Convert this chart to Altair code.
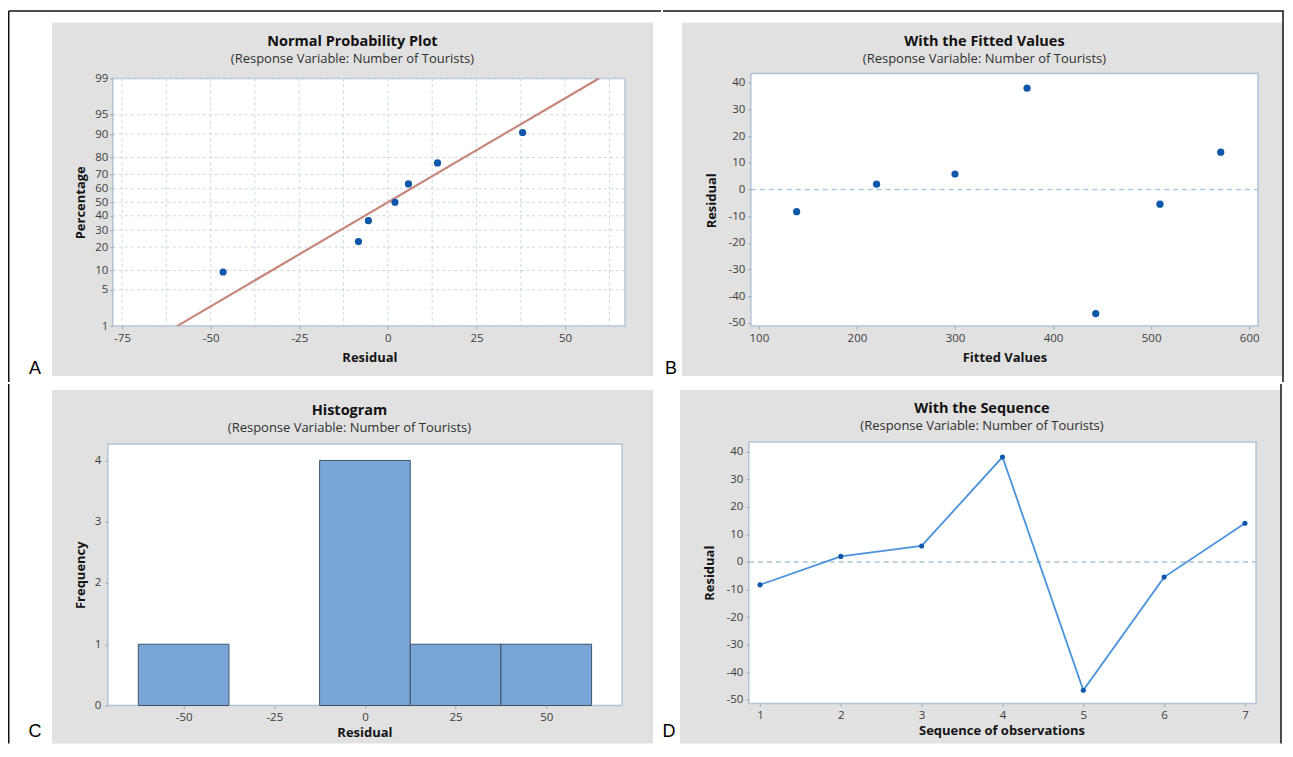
import altair as alt
import pandas as pd
from statistics import NormalDist

# ---------------- data ----------------
observation = [1, 2, 3, 4, 5, 6, 7]
residual = [-8.3, 2.0, 5.8, 38.0, -46.5, -5.5, 14.0]
fitted_value = [138.5, 220.0, 300.0, 373.5, 443.5, 509.0, 571.0]

npp_residual = [-46.5, -8.3, -5.5, 2.0, 5.8, 14.0, 38.0]
npp_percent = [9.5, 23.0, 36.5, 50.0, 63.5, 77.0, 90.5]
fit_residual = [-59.5, 59.5]
fit_percent = [1, 99]

hist_start = [-62.5, -37.5, -12.5, 12.5, 37.5]
hist_end = [-37.5, -12.5, 12.5, 37.5, 62.5]
hist_count = [1, 0, 4, 1, 1]

pct_ticks = [1, 5, 10, 20, 30, 40, 50, 60, 70, 80, 90, 95, 99]
npp_x_ticks = [-75, -50, -25, 0, 25, 50]
npp_x_grid = [-75, -62.5, -50, -37.5, -25, -12.5, 0, 12.5, 25, 37.5, 50, 62.5]
fit_x_ticks = [100, 200, 300, 400, 500, 600]
resid_y_ticks = [-50, -40, -30, -20, -10, 0, 10, 20, 30, 40]
hist_x_ticks = [-50, -25, 0, 25, 50]
hist_y_ticks = [0, 1, 2, 3, 4]
seq_x_ticks = [1, 2, 3, 4, 5, 6, 7]
zero_ref = [0]

SUB = "(Response Variable: Number of Tourists)"

# ---------------- styling ----------------
FONT = "Open Sans"
GRAY = "#e1e1e1"
FRAME = "#b4c4d3"
GRID = "#c9d7e4"
ZERO = "#a9c6da"
DOT = "#0f57a8"
INT_EXPR = "datum.value < 0 ? '-' + format(-datum.value, 'd') : format(datum.value, 'd')"
PCT_EXPR = "format(round(cumulativeNormal(datum.value) * 100), 'd')"

one = pd.DataFrame({"k": [0]})


def box(x1, x2, y1, y2, fill, stroke=None, sw=0):
    props = {"fill": fill}
    if stroke is not None:
        props.update(stroke=stroke, strokeWidth=sw)
    else:
        props.update(strokeWidth=0)
    return alt.Chart(one).mark_rect(**props).encode(
        x=alt.value(x1), x2=alt.value(x2), y=alt.value(y1), y2=alt.value(y2))


def hline(x1, x2, y, color="#111111", sw=1.5):
    return alt.Chart(one).mark_rule(color=color, strokeWidth=sw).encode(
        x=alt.value(x1), x2=alt.value(x2), y=alt.value(y))


def vline(x, y1, y2, color="#111111", sw=1.5):
    return alt.Chart(one).mark_rule(color=color, strokeWidth=sw).encode(
        x=alt.value(x), y=alt.value(y1), y2=alt.value(y2))


def text(x, y, s, size, weight="normal", font=FONT, color="#151515"):
    return alt.Chart(one).mark_text(
        fontSize=size, fontWeight=weight, font=font, color=color,
        align="center", baseline="middle").encode(
        x=alt.value(x), y=alt.value(y), text=alt.value(s))


def xax(values, title, tx, ty, expr=INT_EXPR):
    return alt.Axis(values=values, title=title, titleX=tx, titleY=ty, titleAngle=0,
                    titleAlign="center", titleBaseline="middle", labelExpr=expr,
                    labelFlush=False, labelOverlap=False, grid=False, domain=False,
                    tickSize=3, labelPadding=3, zindex=1)


def yax(values, title, tx, ty, expr=INT_EXPR, pad=2, offset=0):
    return alt.Axis(values=values, title=title, titleX=tx, titleY=ty, titleAngle=270,
                    titleAlign="center", titleBaseline="middle", labelExpr=expr,
                    labelFlush=False, labelOverlap=False, grid=False, domain=False,
                    tickSize=3, labelPadding=pad, offset=offset, zindex=1)


def decor(cell, gray, frame, borders, letter, title, title_pos):
    (cx1, cx2, cy1, cy2) = cell
    (gx1, gx2, gy1, gy2) = gray
    (fx1, fx2, fy1, fy2) = frame
    layers = [box(cx1, cx2, cy1, cy2, "white"), box(gx1, gx2, gy1, gy2, GRAY)]
    layers += borders
    layers.append(text(letter[0], letter[1], letter[2], 18, font="Liberation Sans", color="#000000"))
    layers.append(text(title_pos[0], title_pos[1] - 0.5, title, 14.5, weight="bold", color="#111111"))
    layers.append(text(title_pos[0], title_pos[1] + 16.5, SUB, 13, color="#303030"))
    layers.append(box(fx1, fx2, fy1, fy2, "white", FRAME, 1.5))
    return layers


# ---------------- Panel A: normal probability plot ----------------
# view spans a few pixels more than the frame so that rows/columns line up
WA, HA = 518, 253
sxA = alt.Scale(domain=[-79.01, 66.9], nice=False, zero=False)
syA = alt.Scale(domain=[NormalDist().inv_cdf(0.01), 2.4200], nice=False, zero=False)
z_ticks = [NormalDist().inv_cdf(p / 100) for p in pct_ticks]
axAx = xax(npp_x_ticks, "Residual", 262, 31)
axAy = yax(z_ticks, "Percentage", -32, 129, expr=PCT_EXPR, offset=-5)

a_layers = decor((-100, 554, -65, 309), (-56, 546, -51, 303), (5, WA, 5, HA),
                 [vline(-99.25, -62.5, 309), hline(-99.25, 554, -62.5)],
                 (-73, 296, "A"), "Normal Probability Plot", (245, -31.3))
a_vgrid = alt.Chart(pd.DataFrame({"g": npp_x_grid})).mark_rule(
    color=GRID, strokeDash=[3, 3], strokeWidth=1).encode(
    x=alt.X("g:Q", scale=sxA, axis=axAx), y=alt.value(5), y2=alt.value(HA))
a_hgrid = alt.Chart(pd.DataFrame({"pct": pct_ticks})).transform_calculate(
    z="quantileNormal(datum.pct / 100)").mark_rule(
    color=GRID, strokeDash=[3, 3], strokeWidth=1).encode(
    y=alt.Y("z:Q", scale=syA, axis=axAy), x=alt.value(5), x2=alt.value(WA))
a_fit = alt.Chart(pd.DataFrame({"r": fit_residual, "pct": fit_percent})).transform_calculate(
    z="quantileNormal(datum.pct / 100)").mark_line(
    color="#c8867b", strokeWidth=2.2, clip=True).encode(
    x=alt.X("r:Q", scale=sxA, axis=axAx), y=alt.Y("z:Q", scale=syA, axis=axAy))
a_pts = alt.Chart(pd.DataFrame({"r": npp_residual, "pct": npp_percent})).transform_calculate(
    z="quantileNormal(datum.pct / 100)").mark_circle(
    size=52, color=DOT, opacity=1).encode(
    x=alt.X("r:Q", scale=sxA, axis=axAx), y=alt.Y("z:Q", scale=syA, axis=axAy))
panelA = alt.layer(*a_layers, a_vgrid, a_hgrid, a_fit, a_pts).properties(width=WA, height=HA)

# ---------------- Panel B: versus fits ----------------
WB, HB = 508, 253
sxB = alt.Scale(domain=[91.8, 609], nice=False, zero=False)
syB = alt.Scale(domain=[-51.2, 43.5], nice=False, zero=False)
axBx = xax(fit_x_ticks, "Fitted Values", 254, 31)
axBy = yax(resid_y_ticks, "Residual", -39, 127, pad=3)
b_layers = decor((-88, 534, -65, 309), (-69, 532.5, -51, 303), (0, WB, 0, HB),
                 [hline(-88, 533.75, -62.5), vline(533, -62.5, 309)],
                 (-80, 296, "B"), "With the Fitted Values", (234, -31.3))
b_zero = alt.Chart(pd.DataFrame({"ref": zero_ref})).mark_rule(
    color=ZERO, strokeDash=[5, 4], strokeWidth=1.5).encode(
    y=alt.Y("ref:Q", scale=syB, axis=axBy), x=alt.value(0), x2=alt.value(WB))
b_pts = alt.Chart(pd.DataFrame({"fit": fitted_value, "res": residual})).mark_circle(
    size=52, color=DOT, opacity=1).encode(
    x=alt.X("fit:Q", scale=sxB, axis=axBx), y=alt.Y("res:Q", scale=syB, axis=axBy))
panelB = alt.layer(*b_layers, b_zero, b_pts).properties(width=WB, height=HB)

# ---------------- Panel C: histogram ----------------
WC, HC = 515, 264
sxC = alt.Scale(domain=[-70.9, 70.9], nice=False, zero=False)
syC = alt.Scale(domain=[0, 4.3026], nice=False)
axCx = xax(hist_x_ticks, "Residual", 257, 27)
axCy = yax(hist_y_ticks, "Frequency", -27, 133, pad=4)
c_layers = decor((-100, 554, -58, 302), (-56, 546, -52, 302), (0, WC, 2, HC),
                 [vline(-99.25, -58, 302)],
                 (-73, 291, "C"), "Histogram", (242, -30))
c_bars = alt.Chart(pd.DataFrame({"start": hist_start, "end": hist_end, "count": hist_count})).transform_filter(
    "datum.count > 0").mark_rect(fill="#79a5d7", stroke="#3f536b", strokeWidth=1, opacity=1).encode(
    x=alt.X("start:Q", scale=sxC, axis=axCx), x2="end:Q",
    y=alt.Y("count:Q", scale=syC, axis=axCy), y2=alt.datum(0))
panelC = alt.layer(*c_layers, c_bars).properties(width=WC, height=HC)

# ---------------- Panel D: versus order ----------------
WD, HD = 508, 262
sxD = alt.Scale(domain=[0.862, 7.137], nice=False, zero=False)
syD = alt.Scale(domain=[-51.3, 43.5], nice=False, zero=False)
axDx = xax(seq_x_ticks, "Sequence of observations", 253, 27)
axDy = yax(resid_y_ticks, "Residual", -39, 131, pad=3)
d_layers = decor((-88, 534, -58, 302), (-69, 532.5, -52, 302), (0, WD, 0, HD),
                 [vline(533, -58, 302)],
                 (-80, 291, "D"), "With the Sequence", (233.5, -32.3))
d_zero = alt.Chart(pd.DataFrame({"ref": zero_ref})).mark_rule(
    color=ZERO, strokeDash=[5, 4], strokeWidth=1.5).encode(
    y=alt.Y("ref:Q", scale=syD, axis=axDy), x=alt.value(0), x2=alt.value(WD))
seq_df = pd.DataFrame({"obs": observation, "res": residual})
d_line = alt.Chart(seq_df).mark_line(color="#4a92da", strokeWidth=1.8).encode(
    x=alt.X("obs:Q", scale=sxD, axis=axDx), y=alt.Y("res:Q", scale=syD, axis=axDy))
d_pts = alt.Chart(seq_df).mark_circle(size=26, color=DOT, opacity=1).encode(
    x=alt.X("obs:Q", scale=sxD, axis=axDx), y=alt.Y("res:Q", scale=syD, axis=axDy))
panelD = alt.layer(*d_layers, d_zero, d_line, d_pts).properties(width=WD, height=HD)

# ---------------- assemble ----------------
row1 = alt.hconcat(panelA, panelB, spacing=0)
row2 = alt.hconcat(panelC, panelD, spacing=0)
chart = alt.vconcat(row1, row2, spacing=0).properties(
    padding=0, background="white"
).configure_view(strokeWidth=0).configure_axis(
    labelFont=FONT, labelFontSize=11.5, labelColor="#3d3d3d",
    titleFont=FONT, titleFontSize=13, titleFontWeight="bold", titleColor="#141414",
    tickColor="#9aabbb", tickWidth=1
)

chart.save("out.html", embed_options={"renderer": "svg", "actions": False})
